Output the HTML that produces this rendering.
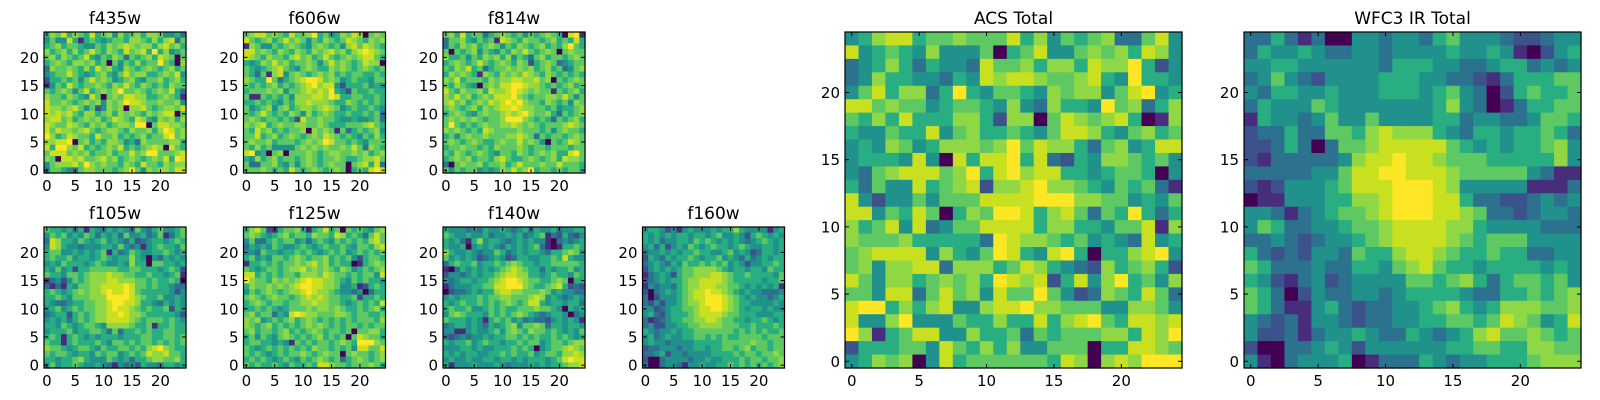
<!DOCTYPE html>
<html><head><meta charset="utf-8"><style>
html,body{margin:0;padding:0;background:#fff;}
svg{display:block;font-family:"DejaVu Sans","Liberation Sans",sans-serif;}
</style></head><body>
<svg id="fig" width="1600" height="400" viewBox="0 0 1600 400" xmlns="http://www.w3.org/2000/svg"></svg>
<script>
// Each map: 25 rows listed from top (y=24) to bottom (y=0); digit 0-9 = relative intensity
const f435w = ["5768576585674756757764453","4644851565456657765757836","5675665446576787677578675","7567575686576586785957456","6757656854657636567587606","5676577675606465756696507","3766765758675476567656756","4566865456754686775567684","2556564686764567546675675","1465865667657686576565766","6567646856767966765676853","7665765486067688775567651","8667656767476798876676674","8776786462476707786567768","8787865775675767657678806","7886756767568765875476757","8766876576756776990688776","8687767865677657667579867","9756876658667565675668967","7788906756577645376666775","8599768565676856567870865","6888676756675668679966678","7608878667867567656768598","4677786976766576586657677","3665436776665679647677688"];
const f606w = ["6788676586679564576870676","8656756867646576568765767","1764465676546765647868765","8867657657657678675789876","8765766578675686567678865","5457686756676468676568770","6545678654676557676567656","6536178467656767565665565","7655963567899867645655466","6565675656789788425556454","5666767466787879542655655","6116565647778879855665565","5565654657787776557656565","6456746756776787645655654","6568656576475676556556563","6765665652866766544544563","7678567667766765556667865","6586756566707676163565674","6685675676567687656546575","6766756665676798665654666","6575644446767676676863765","8945067066676567766767567","5475675665676566765567786","6336675464676567660678583","6667656586567656760565898"];
const f814w = ["6758566356765646567650891","3667546561876576656756585","3657675676465765675657965","6065674654657686567606766","7556465767574653675665676","5676568656765762567634566","6576856356676767567563467","5767651765767687657656565","7685666576778877867065676","6576540676889987765656756","8657667587789876766165675","7686756768889765667768646","7867567687898976657656476","6765675767889877665645567","5676546766787897667536567","6767676566799976565365675","6965656766778767656667876","7676565876666766656467665","5646766766677876365665676","6765676556766867640656876","5667665657666765665666566","6576567654665765676755896","5676756657865567656758776","3067667566756866676686665","6465664545768679566565665"];
const f105w = ["6554535154354543643564456","4656454653545364453461356","3875546545645435234554565","4875443444554643414565546","5664454545615346544556545","5655645545654557540435454","4546555456544547550665545","5464525566666556655545652","6554665677787766556554561","1342465677788777665655650","3131546677888898665655433","5654567677898898655555424","5565466677799998765564454","5433455667789988755435454","4564565667789887656556254","3455256567788987765555542","4545356567788887656665654","5546545665477776556155655","4555645566536355656556655","5651565454555455566556656","6551565556546656566565656","7665456654655665657897655","6566545546566456568778665","5545567544465453556776675","4645565445431434254435545"];
const f125w = ["5786215667515685606565467","6765456756657665875653686","4633565664535654656565786","3545465445654565565466578","4436554556565456564565656","5645466567656675656425665","1556565667678675655015676","6545665677867676576456567","8856565665777687665656648","9766576767898877654656554","5766767678998877644512565","4656765677898776544340355","6765676656787876655625565","5676566566778776654565658","5565654566676776765565675","6756635489877666776566556","7674565675676565656566657","7656756565676765656656566","6756656756567656656066775","5646546765656756560687665","5665545416565665676599976","6545656565657665656488668","6565456566765676606766567","5656545654656765635676567","6565565465565887665666765"];
const f140w = ["5444343544543453544534455","6544544534454534561325324","5453157455434545441034345","5445045454354545631015565","7544543446534545543556764","6454542345423554455658544","3565564556567655455666665","1035454545678765535455645","2443454556788775545655465","4345545567899876655676055","1344455668899976556785232","0233454557887766676454433","4545556566776667874543454","5456556565676568854554553","5655644565655666766540545","4676555465656765434554034","6555454156564534332454541","3455454354567466763554554","4411454456467657665654546","3234344545566565655656545","5455645655455656645665677","4445545445556565045667876","5454554455656556456657787","4544544554554545554568988","5144454445434445454556778"];
const f160w = ["4554241454445455754444145","5454545545545644542565454","5453445546565454543456545","4535245465456554565445545","3445454556554456454235545","2543545565455645435345455","3454354655656564542445565","2454545667777654554554655","1345425667778876556555546","2345455677888876555554556","1434435677888776654545451","2034545678898876545443334","3024445678899987654544345","3242445677899987655444454","4423455667889987654554544","4532455567888876655544455","3123455667788766554556545","3422445566777766655655565","5434454556666666565656556","4534544556656565566665666","4544344445555566666766566","2334443445545566567566566","3345244344445555656656676","2003444434454455565665667","3003443144544556565656567"];
const tickVals = [0,5,10,15,20];
const panels = [
  {name:"f435w", data:f435w, x:44,   y:32,  w:142, h:141, fs:15},
  {name:"f606w", data:f606w, x:243.5,y:32,  w:142, h:141, fs:15},
  {name:"f814w", data:f814w, x:443,  y:32,  w:142, h:141, fs:15},
  {name:"f105w", data:f105w, x:44,   y:227, w:142, h:141, fs:15},
  {name:"f125w", data:f125w, x:243.5,y:227, w:142, h:141, fs:15},
  {name:"f140w", data:f140w, x:443,  y:227, w:142, h:141, fs:15},
  {name:"f160w", data:f160w, x:642.5,y:227, w:142, h:141, fs:15}
];
const acsTotal = ["4578856676668574656733684","8456547444605684467675874","3457535443866757758779524","3475544354878876678549554","4685773595466547677468945","8867664566547437554967357","6575855577527706876785017","5446558467556546887546756","4547645777679687753674588","4555484085889583254776564","4367888679589788554566504","5364485678277897765465631","8424464666888899977664546","8846586057699857863659535","7568483466888857755466817","7666755555398776564543845","6788884754698548950557894","6747788377756875432756752","8647756767598782584795647","6648836867486696423765863","8995757844788977666447764","8447944465575585789658878","9715688447556365666775879","2555664865757446660558876","4576704856666665870787999"];
const wfc3Total = ["3353130044344356444322344","3544543344344445445410245","4455444444355544334553434","3464324444555443321355566","4355445444555456430256556","3544465444444457430135566","1544346446444455344334665","2335336657877754355455653","2235303667888886545455674","2133333478898876665555574","3333344688998887666664311","2124445688899987444441113","0114445577899988533223434","4431345667899988763323443","4653344566788887754444333","3343234456788887656664444","5323244365578876556553344","6533343355467865545555454","5421342344446656753566564","6530243344345555433556567","6531145323344567545777667","4323144323344556656876458","4223134454335434578667656","2003345424444445566557766","4103444501333543445556777"];
const bigPanels = [
  {name:"ACS Total", key:"acs-total", data:acsTotal, x:845, y:32, w:337, h:336, fs:15},
  {name:"WFC3 IR Total", key:"wfc3-ir-total", data:wfc3Total, x:1244, y:32, w:337, h:336, fs:15}
];
const viridis = ["#440154","#472d7b","#3b528b","#2c728e","#21918c","#28ae80","#5ec962","#8fd744","#c8e020","#fde725"];
const NS = "http://www.w3.org/2000/svg";
const svg = document.getElementById("fig");
function mk(tag, attrs, parent){const e=document.createElementNS(NS,tag);for(const k in attrs)e.setAttribute(k,attrs[k]);(parent||svg).appendChild(e);return e;}
function drawPanel(p, key){
  const g = mk("g",{});
  
  
  const n = p.data.length;
  const sx = v => p.x + (v + 0.5) / n * p.w;
  const sy = v => p.y + p.h - (v + 0.5) / n * p.h;
  const cw = p.w / n, ch = p.h / n;
  for (let r = 0; r < n; r++) {
    const row = p.data[r];
    const yv = n - 1 - r;
    for (let c = 0; c < row.length; c++) {
      const v = +row[c];
      const rect = mk("rect",{x:(sx(c)-cw/2).toFixed(2), y:(sy(yv)-ch/2).toFixed(2), width:(cw+0.6).toFixed(2), height:(ch+0.6).toFixed(2), fill:viridis[v]}, g);
      
      
    }
  }
  const frame = mk("rect",{x:p.x, y:p.y, width:p.w, height:p.h, fill:"none", stroke:"#000", "stroke-width":1.2}, g);
  
  
  const tl = 4;
  tickVals.forEach(t => {
    const X = sx(t), Y = sy(t);
    mk("line",{x1:X,y1:p.y+p.h,x2:X,y2:p.y+p.h-tl,stroke:"#000","stroke-width":1},g);
    mk("line",{x1:X,y1:p.y,x2:X,y2:p.y+tl,stroke:"#000","stroke-width":1},g);
    mk("line",{x1:p.x,y1:Y,x2:p.x+tl,y2:Y,stroke:"#000","stroke-width":1},g);
    mk("line",{x1:p.x+p.w,y1:Y,x2:p.x+p.w-tl,y2:Y,stroke:"#000","stroke-width":1},g);
    const xl = mk("text",{x:X, y:p.y+p.h+18, "font-size":p.fs, "text-anchor":"middle", fill:"#000"}, g);
    xl.textContent = t;
    
    
    const yl = mk("text",{x:p.x-5, y:Y+5.5, "font-size":p.fs, "text-anchor":"end", fill:"#000"}, g);
    yl.textContent = t;
    
    
  });
  const title = mk("text",{x:p.x+p.w/2, y:p.y-8, "font-size":17, "text-anchor":"middle", fill:"#000"}, g);
  title.textContent = p.name;
  
  
}
panels.forEach(p => drawPanel(p, p.name));
bigPanels.forEach(p => drawPanel(p, p.key));
</script>
</body></html>
